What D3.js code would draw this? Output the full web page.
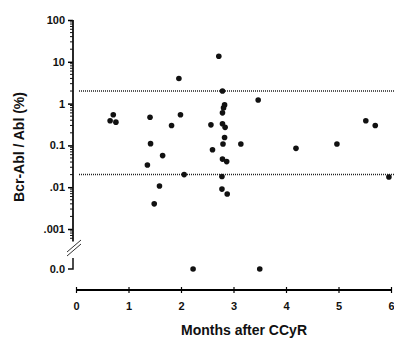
<!DOCTYPE html>
<html>
<head>
<meta charset="utf-8">
<script src="https://cdn.jsdelivr.net/npm/d3@7"></script>
<style>
  body { margin: 0; background: #fff; }
  text { font-family: "Liberation Sans", Arial, sans-serif; font-weight: bold; fill: #111; }
</style>
</head>
<body>
<div id="chart"></div>
<script>
const width = 394, height = 339;

// months after CCyR and Bcr-Abl/Abl ratio (%); 0 = undetectable
const months = [0.65, 0.71, 0.76, 1.36, 1.41, 1.42, 1.49, 1.59, 1.65, 1.82,
                1.96, 1.99, 2.06, 2.23, 2.57, 2.60, 2.72, 2.79, 2.78, 2.78,
                2.79, 2.79, 2.80, 2.81, 2.83, 2.83, 2.84, 2.79, 2.87, 2.88,
                3.14, 3.47, 3.50, 4.19, 4.97, 5.52, 5.70, 5.96];
const ratios = [0.39, 0.54, 0.36, 0.034, 0.47, 0.11, 0.004, 0.0107, 0.057, 0.30,
                4.0, 0.54, 0.02, 0, 0.31, 0.079, 13.6, 2.0, 0.018, 0.009,
                0.60, 0.33, 0.108, 0.79, 0.93, 0.155, 0.27, 0.047, 0.041, 0.0069,
                0.108, 1.22, 0, 0.085, 0.108, 0.39, 0.30, 0.0175];

const xTicks = [0, 1, 2, 3, 4, 5, 6];
const yTicks = [100, 10, 1, 0.1, 0.01, 0.001];
const yTickLabels = ["100", "10", "1", "0.1", ".01", ".001"];
const thresholds = [2, 0.02];

const svg = d3.select("#chart").append("svg")
    .attr("width", width)
    .attr("height", height);

const x = d3.scaleLinear().domain([0, 6]).range([76, 391]);
const y = d3.scaleLog().domain([0.001, 100]).range([229, 20]);
const yZero = 269;
const axisX = 73;

// dotted thresholds
svg.selectAll(".thr")
    .data(thresholds)
    .enter()
    .append("line")
    .attr("x1", 79).attr("x2", width)
    .attr("y1", d => y(d)).attr("y2", d => y(d))
    .attr("stroke", "#222")
    .attr("stroke-width", 1.5)
    .attr("stroke-dasharray", "1,1");

// log y axis
const yAxis = d3.axisLeft(y)
    .tickValues(yTicks)
    .tickFormat((d, i) => yTickLabels[i])
    .tickSize(5)
    .tickPadding(3);
const gy = svg.append("g")
    .attr("transform", `translate(${axisX},0)`)
    .call(yAxis);
gy.select(".domain").remove();
gy.selectAll("text").style("font-size", "11px");
gy.selectAll("line").attr("stroke-width", 1.5);

// minor ticks
const minor = [];
[0.001, 0.01, 0.1, 1, 10].forEach(b => { for (let k = 2; k <= 9; k++) minor.push(b * k); });
[0.0006, 0.0007, 0.0008, 0.0009].forEach(v => minor.push(v));
gy.selectAll(".minor")
    .data(minor)
    .enter()
    .append("line")
    .attr("x1", -3).attr("x2", 0)
    .attr("y1", d => y(d)).attr("y2", d => y(d))
    .attr("stroke", "#111").attr("stroke-width", 1);

gy.append("line")
    .attr("x1", 0).attr("x2", 0)
    .attr("y1", y(100)).attr("y2", y(0.0005))
    .attr("stroke", "#111").attr("stroke-width", 1.8);

// break marks
[0, 4].forEach(o => {
  svg.append("line")
    .attr("x1", axisX - 6).attr("y1", 252 + o)
    .attr("x2", axisX + 8).attr("y2", 240 + o)
    .attr("stroke", "#333").attr("stroke-width", 1);
});

// zero segment
svg.append("path")
    .attr("d", `M${axisX},258 V${yZero} H${axisX - 5}`)
    .attr("fill", "none").attr("stroke", "#111").attr("stroke-width", 1.5);
svg.append("text")
    .attr("x", axisX - 8).attr("y", yZero)
    .attr("dy", "0.32em")
    .attr("text-anchor", "end")
    .style("font-size", "11px")
    .text("0.0");

// x axis
const xAxis = d3.axisBottom(x).tickValues(xTicks).tickSize(3).tickPadding(9).tickFormat(d3.format("d"));
const gx = svg.append("g")
    .attr("transform", "translate(0,290)")
    .call(xAxis);
gx.select(".domain").attr("d", `M${x(0)},0H${x(6)}`).attr("stroke-width", 1.8);
gx.selectAll(".tick line").attr("y1", -3).attr("stroke-width", 1.2);
gx.selectAll("text").style("font-size", "11px");

// points
const points = months.map((m, i) => ({ m: m, v: ratios[i] }));
svg.selectAll(".pt")
    .data(points)
    .enter()
    .append("circle")
    .attr("class", "pt")
    .attr("cx", d => x(d.m))
    .attr("cy", d => d.v > 0 ? y(d.v) : yZero)
    .attr("r", 2.8)
    .attr("fill", "#111");

// axis titles
svg.append("text")
    .attr("x", 244).attr("y", 335)
    .attr("text-anchor", "middle")
    .style("font-size", "14px")
    .text("Months after CCyR");

svg.append("text")
    .attr("transform", "translate(24,147) rotate(-90)")
    .attr("text-anchor", "middle")
    .style("font-size", "14px")
    .text("Bcr-Abl / Abl (%)");
</script>
</body>
</html>
